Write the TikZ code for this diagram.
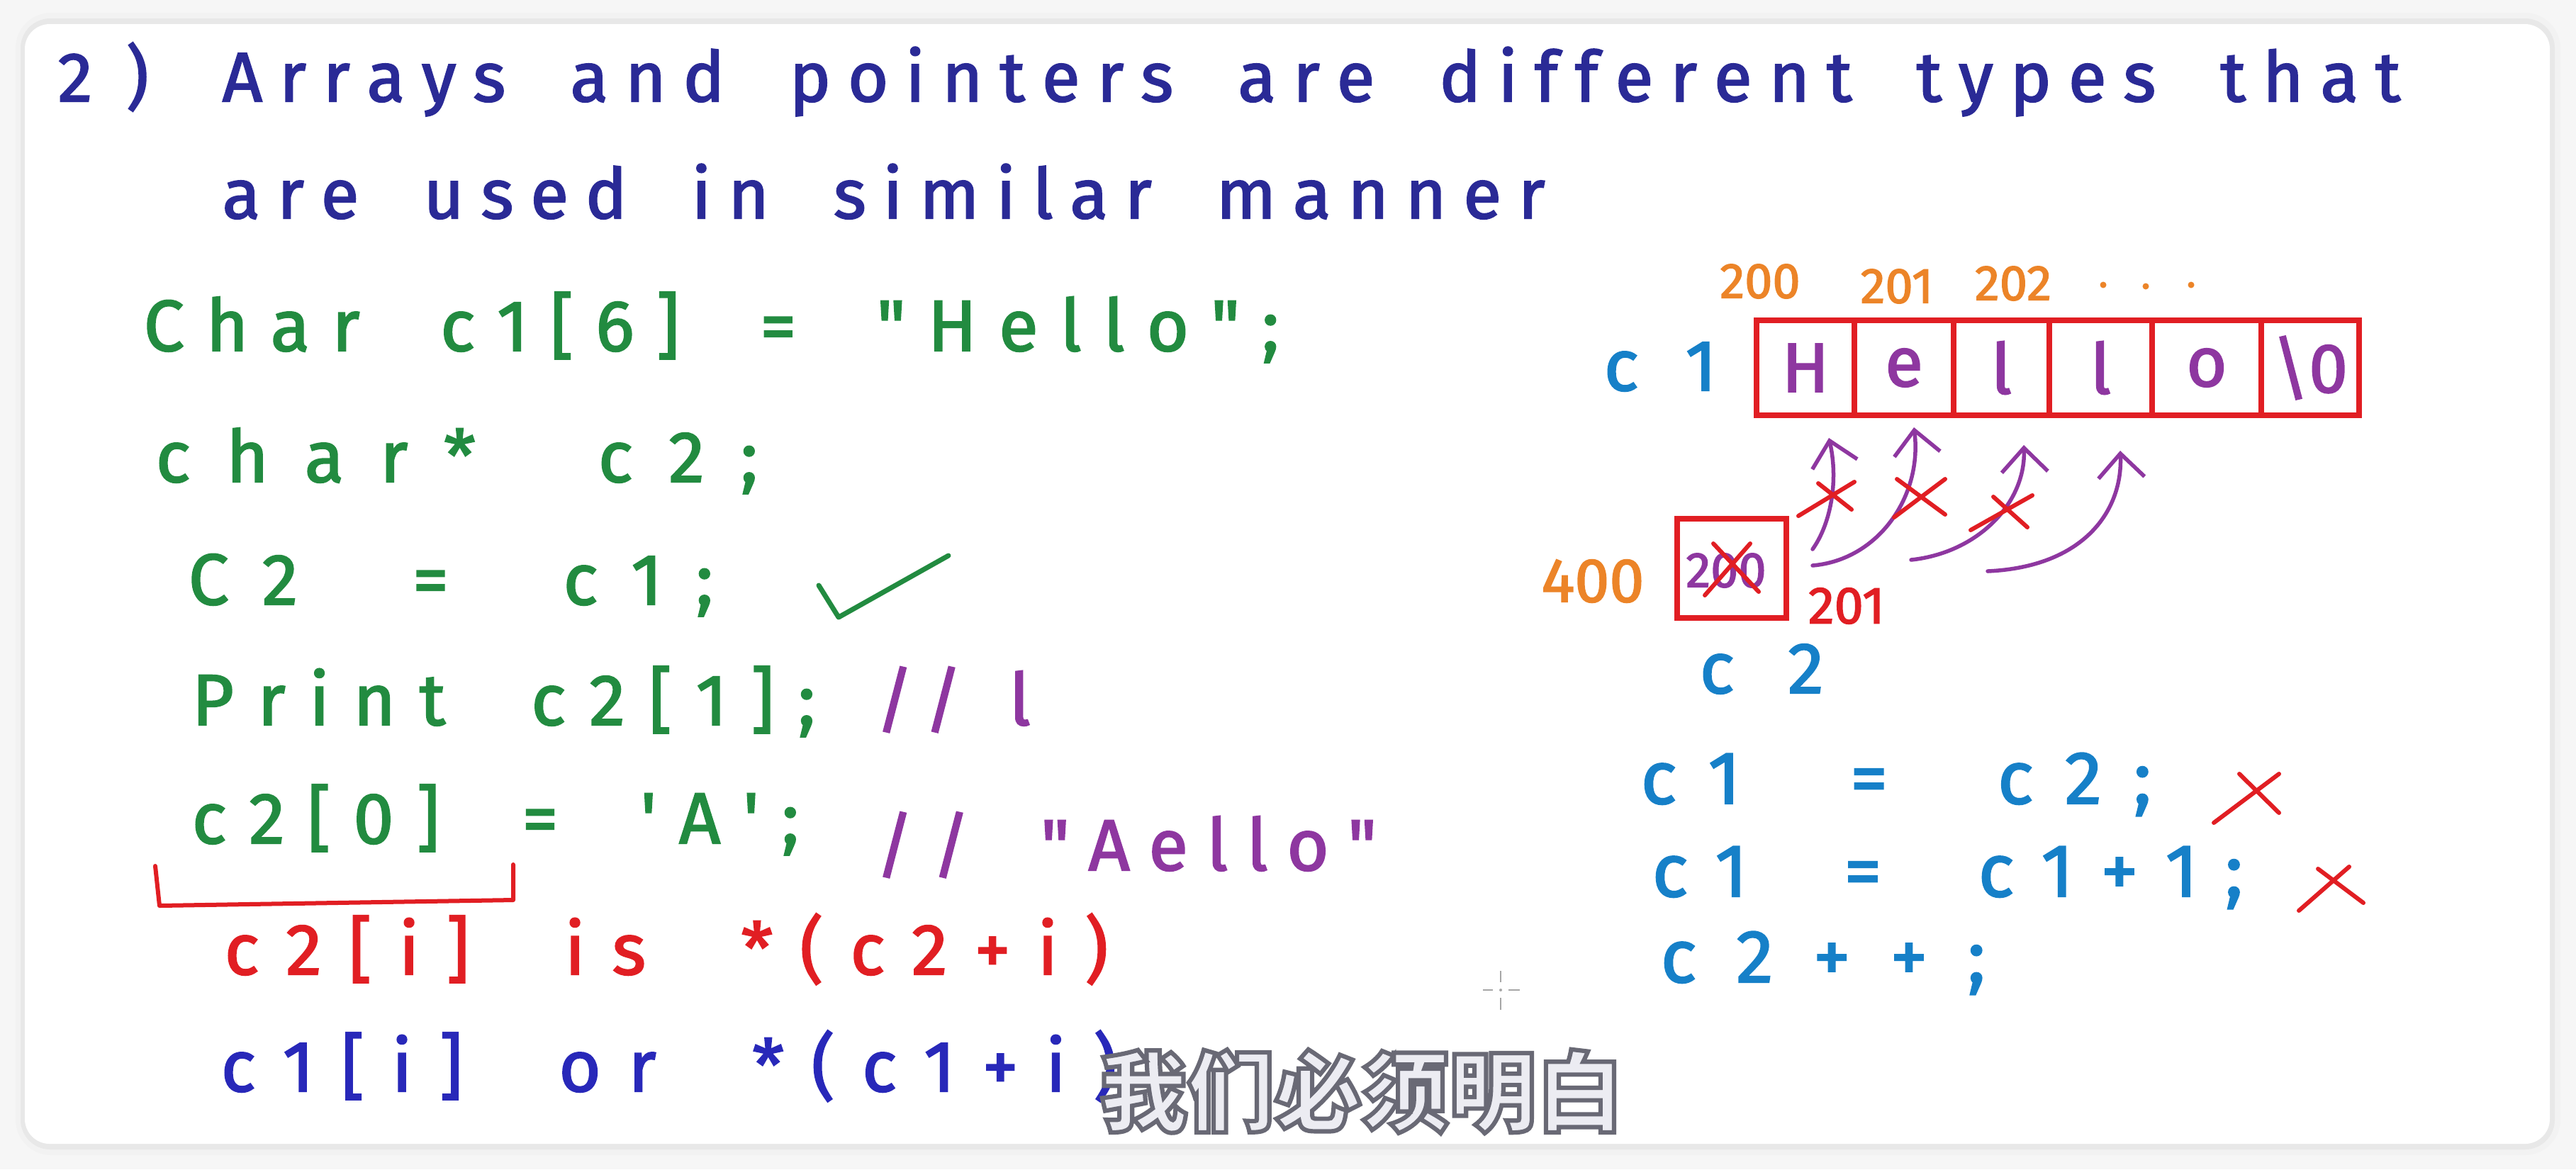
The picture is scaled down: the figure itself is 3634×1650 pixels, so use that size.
\documentclass[tikz,border=0pt]{standalone}
\usepackage{fontspec}
\usetikzlibrary{arrows.meta}
\newfontfamily\hand{Fira Sans}[FakeBold=2]
\newfontfamily\cjk{Noto Sans CJK SC}[BoldFeatures={FakeBold=5}]
\definecolor{titleblue}{RGB}{42,42,150}
\definecolor{cgreen}{RGB}{34,139,64}
\definecolor{cpurple}{RGB}{142,55,160}
\definecolor{cred}{RGB}{225,30,35}
\definecolor{corange}{RGB}{236,132,40}
\definecolor{lblue}{RGB}{22,128,200}
\definecolor{dblue}{RGB}{40,40,185}
\definecolor{subfill}{RGB}{236,236,242}
\definecolor{bgout}{RGB}{246,246,246}
\ExplSyntaxOn
\NewDocumentCommand\hsp{m}{
  \str_map_inline:nn {#1}
    { \str_if_eq:nnTF {##1} {~} { \hskip 0.2em plus 2fil \relax } { ##1 \hskip 0pt plus 1fil \relax } }
  \unskip
}
\ExplSyntaxOff
\newcommand\hl[2]{\makebox[#1][s]{\hsp{#2}}}
\tikzset{
  txt/.style={inner sep=0pt, anchor=base west},
  titlef/.style={font=\hand\fontsize{28pt}{30pt}\selectfont, text=titleblue},
  codef/.style={font=\hand\fontsize{29pt}{31pt}\selectfont},
  cellbox/.style={draw=cred, line width=0.08cm, inner sep=0pt, minimum height=1.34cm,
     text=cpurple, font=\hand\fontsize{28pt}{30pt}\selectfont},
  addr/.style={inner sep=0pt, text=corange, font=\hand\fontsize{20pt}{22pt}\selectfont},
  parrow/.style={draw=cpurple, line width=0.055cm, line cap=round,
     -{Straight Barb[length=0.34cm, width=0.65cm, line width=0.055cm]}},
  redx/.style={draw=cred, line width=0.06cm, line cap=round},
  subt/.style={inner sep=0pt, font=\cjk\bfseries\fontsize{35pt}{37pt}\selectfont},
}
\begin{document}
\begin{tikzpicture}[x=0.01cm, y=-0.01cm]
\useasboundingbox (0,0) rectangle (3634,1650);
% background and card
\fill[bgout] (0,0) rectangle (3634,1650);
\fill[gray!10, rounded corners=0.5cm] (22,18) rectangle (3612,1630);
\fill[gray!18, rounded corners=0.42cm] (29,26) rectangle (3604,1622);
\fill[white, rounded corners=0.35cm] (35,34) rectangle (3597,1614);

% title
\node[txt, titlef] (t0) at (81,143) {\hl{1.28cm}{2)}};
\node[txt, titlef] (t1) at (313,143) {\hl{30.71cm}{Arrays and pointers are different types that}};
\node[txt, titlef] (t2) at (313,308) {\hl{18.65cm}{are used in similar manner}};

% code (left)
\node[txt, codef, text=cgreen] (l1) at (202,495) {\hl{16.01cm}{Char c1[6] = "Hello";}};
\node[txt, codef, text=cgreen] (l2) at (219,680) {\hl{8.49cm}{char* c2;}};
\node[txt, codef, text=cgreen] (l3) at (265,853) {\hl{7.40cm}{C2 = c1;}};
\node[txt, codef, text=cgreen] (l4) at (270,1023) {\hl{8.79cm}{Print c2[1];}};
\node[txt, codef, text=cpurple] (l4c) at (1235,1023) {\hl{2.18cm}{// l}};
\node[txt, codef, text=cgreen] (l5) at (270,1190) {\hl{8.56cm}{c2[0] = 'A';}};
\node[txt, codef, text=cpurple] (l5c) at (1235,1228) {\hl{7.06cm}{// "Aello"}};
\node[txt, codef, text=cred] (l6) at (316,1375) {\hl{12.46cm}{c2[i] is *(c2+i)}};
\node[txt, codef, text=dblue] (l7) at (311,1540) {\hl{12.63cm}{c1[i] or *(c1+i)}};

% check mark and bracket
\draw[cgreen, line width=0.07cm, line cap=round, line join=round] (1155,826) -- (1183,871) -- (1338,784);
\draw[cred, line width=0.06cm, line cap=round, line join=round] (219,1222) -- (225,1278) -- (724,1270) -- (724,1220);

% array c1
\node[txt, codef, text=lblue] (c1lab) at (2262,551) {\hl{1.59cm}{c1}};
\node[cellbox, minimum width=1.38cm] (cH) at (2547,519) {H};
\node[cellbox, minimum width=1.40cm] (cE) at (2686,519) {e};
\node[cellbox, minimum width=1.35cm] (cL1) at (2823.5,519) {l};
\node[cellbox, minimum width=1.45cm] (cL2) at (2963.5,519) {l};
\node[cellbox, minimum width=1.54cm] (cO) at (3113,519) {o};
\node[cellbox, minimum width=1.38cm] (cZ) at (3259,519) {\textbackslash 0};

% addresses
\node[addr] (a200) at (2483,397) {200};
\node[addr] (a201) at (2676,404) {201};
\node[addr] (a202) at (2840,400) {202};
\fill[corange] (2967,402) circle (0.045cm) (3027,404) circle (0.045cm) (3091,402) circle (0.045cm);

% pointer c2
\node[draw=cred, line width=0.08cm, inner sep=0pt, minimum width=1.54cm, minimum height=1.40cm] (ptr) at (2443,802) {};
\node[inner sep=0pt, text=cpurple, font=\hand\fontsize{20pt}{22pt}\selectfont] (pv) at (2435,805) {200};
\draw[redx] (2417,767) -- (2481,835) (2469,767) -- (2405,840);
\node[inner sep=0pt, text=corange, font=\hand\fontsize{25pt}{27pt}\selectfont] (a400) at (2247,820) {400};
\node[inner sep=0pt, text=cred, font=\hand\fontsize{21pt}{23pt}\selectfont] (a201r) at (2605,855) {201};
\node[txt, codef, text=lblue] (c2lab) at (2397,978) {\hl{1.75cm}{c2}};

% arrows
\coordinate (s1) at (2557,775); \coordinate (e1) at (2580,618);
\coordinate (s2) at (2557,798); \coordinate (e2) at (2700,603);
\coordinate (s3) at (2696,790); \coordinate (e3) at (2855,628);
\coordinate (s4) at (2804,806); \coordinate (e4) at (2991,636);
\draw[parrow] (s1) .. controls (2582,740) and (2594,680) .. (e1);
\draw[parrow] (s2) .. controls (2650,790) and (2712,700) .. (e2);
\draw[parrow] (s3) .. controls (2790,780) and (2858,710) .. (e3);
\draw[parrow] (s4) .. controls (2940,800) and (2995,720) .. (e4);
\draw[redx] (2537,728) -- (2616,680) (2565,682) -- (2612,719);
\draw[redx] (2672,730) -- (2744,676) (2676,676) -- (2744,726);
\draw[redx] (2780,748) -- (2867,699) (2812,701) -- (2860,744);

% right statements
\node[txt, codef, text=lblue, font=\hand\fontsize{30pt}{32pt}\selectfont] (r1) at (2314,1134) {\hl{7.20cm}{c1 = c2;}};
\node[txt, codef, text=lblue, font=\hand\fontsize{30pt}{32pt}\selectfont] (r2) at (2330,1265) {\hl{8.33cm}{c1 = c1+1;}};
\node[txt, codef, text=lblue, font=\hand\fontsize{30pt}{32pt}\selectfont] (r3) at (2342,1386) {\hl{4.58cm}{c2++;}};
\draw[redx] (3123,1161) -- (3215,1092) (3159,1092) -- (3215,1147);
\draw[redx] (3243,1285) -- (3314,1223) (3270,1226) -- (3334,1274);

% cursor
\draw[gray!70, line width=0.02cm] (2117,1370) -- (2117,1386) (2117,1408) -- (2117,1425)
   (2092,1397) -- (2106,1397) (2128,1397) -- (2144,1397);
\fill[gray!70] (2117,1397) circle (0.02cm);

% subtitle: light fill with dark outline (stroke colour set after the fill colour)
\node[subt, text=subfill] (sub) at (1921,1540) {\special{pdf:code 0.41 0.41 0.46 RG}我们必须明白};
\end{tikzpicture}
\end{document}
